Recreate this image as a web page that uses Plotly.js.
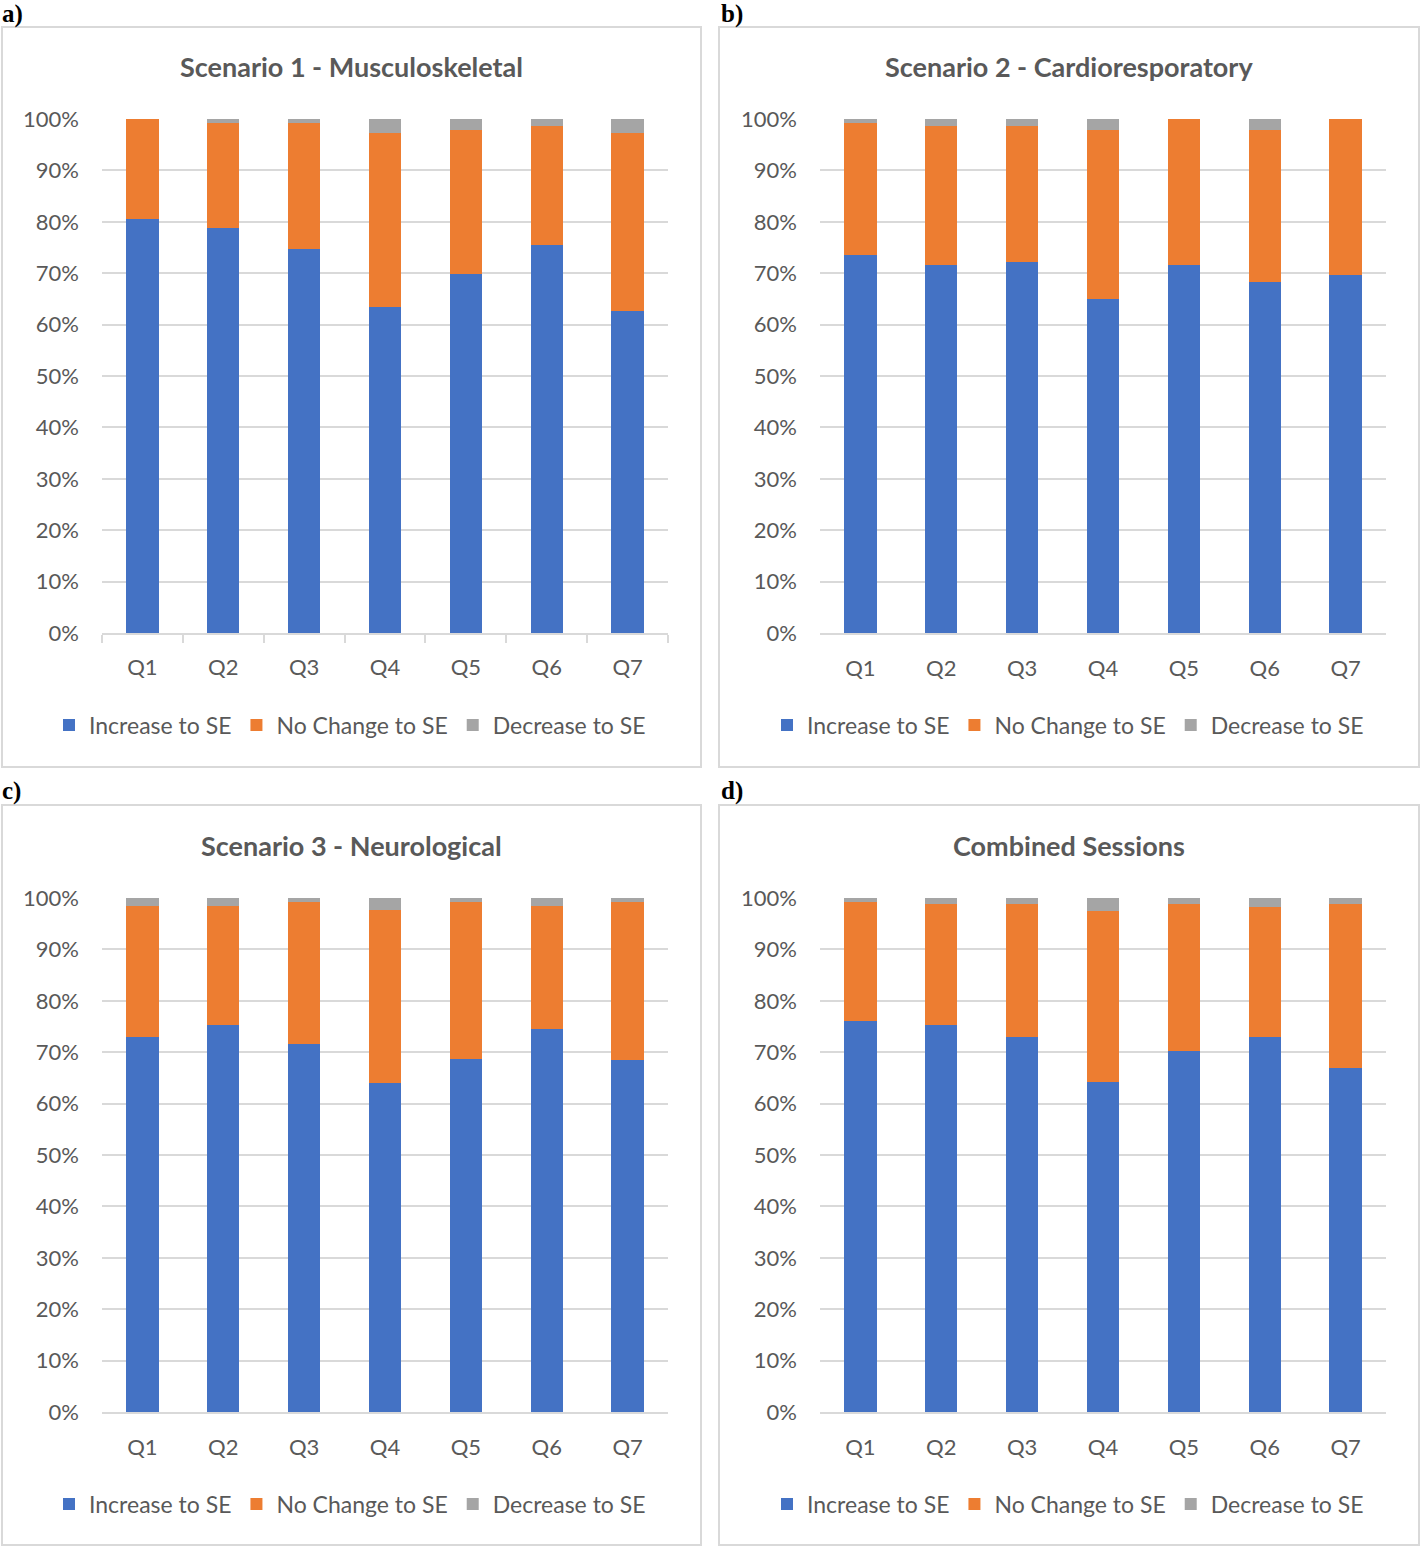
<!DOCTYPE html>
<html>
<head>
<meta charset="utf-8">
<script src="https://cdn.plot.ly/plotly-3.0.1.min.js"></script>
<style>
  html, body { margin: 0; padding: 0; background: #ffffff; }
  #chart { width: 1420px; height: 1547px; }
</style>
</head>
<body>
<div id="chart"></div>
<script>
// ---------- data ----------
const questions = ['Q1', 'Q2', 'Q3', 'Q4', 'Q5', 'Q6', 'Q7'];
const seriesNames = ['Increase to SE', 'No Change to SE', 'Decrease to SE'];
const panelTitles = ['Scenario 1 - Musculoskeletal', 'Scenario 2 - Cardioresporatory', 'Scenario 3 - Neurological', 'Combined Sessions'];
const panelLetters = ['a)', 'b)', 'c)', 'd)'];
const yTickVals = [0, 10, 20, 30, 40, 50, 60, 70, 80, 90, 100];
const yTickText = ['0%', '10%', '20%', '30%', '40%', '50%', '60%', '70%', '80%', '90%', '100%'];

// Scenario 1 - Musculoskeletal (percent)
const s1Increase = [80.6, 78.7, 74.8, 63.4, 69.8, 75.5, 62.6];
const s1NoChange = [19.4, 20.5, 24.4, 33.9, 28.1, 23.1, 34.7];
const s1Decrease = [0.0, 0.8, 0.8, 2.7, 2.1, 1.4, 2.7];
// Scenario 2 - Cardioresporatory
const s2Increase = [73.6, 71.6, 72.2, 65.0, 71.6, 68.3, 69.7];
const s2NoChange = [25.6, 27.0, 26.4, 32.9, 28.4, 29.6, 30.3];
const s2Decrease = [0.8, 1.4, 1.4, 2.1, 0.0, 2.1, 0.0];
// Scenario 3 - Neurological
const s3Increase = [73.0, 75.3, 71.6, 64.1, 68.7, 74.5, 68.5];
const s3NoChange = [25.4, 23.1, 27.6, 33.6, 30.5, 23.9, 30.7];
const s3Decrease = [1.6, 1.6, 0.8, 2.3, 0.8, 1.6, 0.8];
// Combined Sessions
const s4Increase = [76.1, 75.3, 73.0, 64.2, 70.2, 73.0, 66.9];
const s4NoChange = [23.1, 23.5, 25.9, 33.3, 28.7, 25.2, 31.9];
const s4Decrease = [0.8, 1.2, 1.1, 2.5, 1.1, 1.8, 1.2];

const panelData = [
  [s1Increase, s1NoChange, s1Decrease],
  [s2Increase, s2NoChange, s2Decrease],
  [s3Increase, s3NoChange, s3Decrease],
  [s4Increase, s4NoChange, s4Decrease]
];

// ---------- styling / layout ----------
const W = 1420, H = 1547;
const colors = ['#4472C4', '#ED7D31', '#A5A5A5'];
const textColor = '#595959';
const gridColor = '#d9d9d9';
const FONT = 'Lato, "Open Sans", sans-serif';
const px = x => x / W;
const py = y => 1 - y / H;

// panel geometry in pixels
const panels = [
  { box: [2, 27, 701, 767],    plot: [102, 119, 668, 633],   legendX: 350, legendY: 725, titleX: 351, titleY: 67,  label: [0, 14],   ticks: true },
  { box: [719, 27, 1419, 767], plot: [820, 119, 1386, 633],  legendX: 1068, legendY: 725, titleX: 1069, titleY: 67, label: [719, 14], ticks: false },
  { box: [2, 805, 701, 1545],  plot: [102, 898, 668, 1412],  legendX: 350, legendY: 1504, titleX: 351, titleY: 846, label: [0, 791], ticks: false },
  { box: [719, 805, 1419, 1545], plot: [820, 898, 1386, 1412], legendX: 1068, legendY: 1504, titleX: 1069, titleY: 846, label: [719, 791], ticks: false }
];

const traces = [];
const layout = {
  width: W, height: H,
  margin: { l: 0, r: 0, t: 0, b: 0 },
  paper_bgcolor: '#ffffff',
  plot_bgcolor: '#ffffff',
  barmode: 'stack',
  bargap: 0.6,
  font: { family: FONT, color: textColor, size: 21 },
  showlegend: true,
  shapes: [],
  annotations: []
};

panels.forEach((p, i) => {
  const n = i + 1;
  const xa = n === 1 ? 'x' : 'x' + n;
  const ya = n === 1 ? 'y' : 'y' + n;
  const lg = n === 1 ? 'legend' : 'legend' + n;
  seriesNames.forEach((name, k) => {
    traces.push({
      type: 'bar',
      name: name,
      x: questions,
      y: panelData[i][k],
      xaxis: xa, yaxis: ya,
      legend: lg,
      marker: { color: colors[k], line: { width: 0 } },
      hovertemplate: '%{x}: %{y:.1f}%<extra>' + name + '</extra>'
    });
  });

  const [x0, y0, x1, y1] = p.plot;
  layout[n === 1 ? 'xaxis' : 'xaxis' + n] = {
    domain: [px(x0), px(x1)],
    anchor: ya,
    type: 'category',
    showgrid: false,
    showline: true,
    linecolor: gridColor,
    linewidth: 2,
    ticks: p.ticks ? 'outside' : '',
    tickson: 'boundaries',
    ticklen: 8,
    tickcolor: gridColor,
    tickwidth: 2,
    ticklabelstandoff: p.ticks ? 14 : 15,
    tickfont: { family: FONT, size: 22, color: textColor },
    fixedrange: true
  };
  layout[n === 1 ? 'yaxis' : 'yaxis' + n] = {
    domain: [py(y1), py(y0)],
    anchor: xa,
    range: [0, 100],
    tickmode: 'array',
    tickvals: yTickVals,
    ticktext: yTickText,
    showgrid: true,
    gridcolor: gridColor,
    gridwidth: 2,
    zeroline: false,
    showline: false,
    ticks: '',
    ticklabelstandoff: 22,
    tickfont: { family: FONT, size: 22, color: textColor },
    fixedrange: true
  };
  layout[lg] = {
    orientation: 'h',
    x: px(p.legendX), xanchor: 'center',
    y: py(p.legendY), yanchor: 'middle',
    font: { family: FONT, size: 23, color: textColor },
    itemwidth: 30,
    bgcolor: 'rgba(0,0,0,0)',
    traceorder: 'normal'
  };

  const [bx0, by0, bx1, by1] = p.box;
  layout.shapes.push({
    type: 'rect', xref: 'paper', yref: 'paper',
    x0: px(bx0), x1: px(bx1), y0: py(by1), y1: py(by0),
    line: { color: gridColor, width: 2 }, fillcolor: 'rgba(0,0,0,0)', layer: 'below'
  });
  layout.annotations.push({
    xref: 'paper', yref: 'paper',
    x: px(p.titleX), y: py(p.titleY), xanchor: 'center', yanchor: 'middle',
    text: '<b>' + panelTitles[i] + '</b>', showarrow: false,
    font: { family: FONT, size: 27, color: textColor }
  });
  layout.annotations.push({
    xref: 'paper', yref: 'paper',
    x: px(p.label[0]), y: py(p.label[1]), xanchor: 'left', yanchor: 'middle',
    text: '<b>' + panelLetters[i] + '</b>', showarrow: false,
    font: { family: '"Liberation Serif", "Times New Roman", serif', size: 25, color: '#000000' }
  });
});

Plotly.newPlot('chart', traces, layout, { displayModeBar: false, staticPlot: true });
</script>
</body>
</html>
